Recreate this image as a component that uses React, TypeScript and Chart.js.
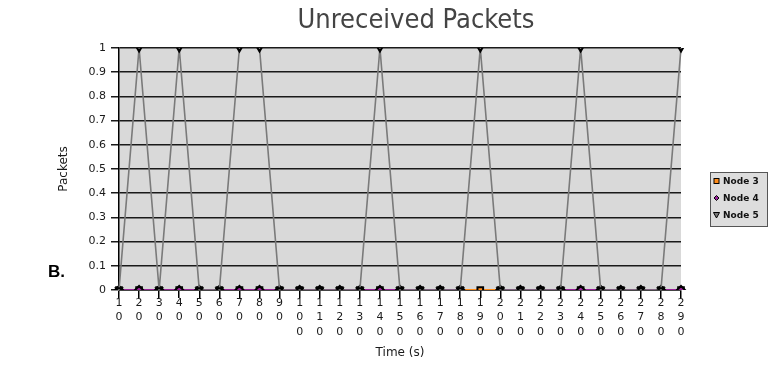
import React, { useEffect, useRef } from 'react';
import { Chart, registerables } from 'chart.js';

Chart.register(...registerables);

const TITLE = 'Unreceived Packets';
const X_TITLE = 'Time (s)';
const Y_TITLE = 'Packets';
const PANEL_LABEL = 'B.';

const categories = [10, 20, 30, 40, 50, 60, 70, 80, 90, 100, 110, 120, 130, 140, 150, 160, 170, 180, 190, 200, 210, 220, 230, 240, 250, 260, 270, 280, 290];

const node3 = [0, 0, 0, 0, 0, 0, 0, 0, 0, 0, 0, 0, 0, 0, 0, 0, 0, 0, 0, 0, 0, 0, 0, 0, 0, 0, 0, 0, 0];
const node4 = [0, 0, 0, 0, 0, 0, 0, 0, 0, 0, 0, 0, 0, 0, 0, 0, 0, 0, null, 0, 0, 0, 0, 0, 0, 0, 0, 0, 0];
const node5 = [0, 1, 0, 1, 0, 0, 1, 1, 0, 0, 0, 0, 0, 1, 0, 0, 0, 0, 1, 0, 0, 0, 0, 1, 0, 0, 0, 0, 1];

const yTickLabels = ['0', '0.1', '0.2', '0.3', '0.4', '0.5', '0.6', '0.7', '0.8', '0.9', '1'];

const seriesNames = ['Node 3', 'Node 4', 'Node 5'];
const seriesColors = ['#ff8c1a', '#992299', '#7a7a7a'];

const FONT = '"DejaVu Sans", sans-serif';

const plotBg = {
  id: 'plotBg',
  beforeDraw(chart: any) {
    const { ctx, chartArea: a } = chart;
    ctx.save();
    ctx.fillStyle = '#d9d9d9';
    ctx.fillRect(a.left, a.top, a.right - a.left, a.bottom - a.top);
    ctx.restore();
  },
};

const overlay = {
  id: 'overlay',
  afterDraw(chart: any) {
    const ctx = chart.ctx;
    ctx.save();
    // title
    ctx.font = '27px "DejaVu Sans Condensed", ' + FONT;
    ctx.fillStyle = '#444';
    ctx.textAlign = 'center';
    ctx.textBaseline = 'middle';
    ctx.fillText(TITLE, 416, 21);

    // legend box
    const lx = 710.5, ly = 172.5, lw = 57, lh = 54;
    ctx.fillStyle = '#dddddd';
    ctx.fillRect(lx, ly, lw, lh);
    ctx.strokeStyle = '#555';
    ctx.lineWidth = 1;
    ctx.strokeRect(lx, ly, lw, lh);

    chart.data.datasets.forEach((ds: any, i: number) => {
      const cy = 181 + i * 17;
      const mx = 716.5;
      ctx.lineWidth = 1;
      ctx.strokeStyle = '#000';
      ctx.fillStyle = ds.pointBackgroundColor;
      if (ds.pointStyle === 'rect') {
        ctx.fillRect(mx - 2.5, cy - 2.5, 5, 5);
        ctx.strokeRect(mx - 2.5, cy - 2.5, 5, 5);
      } else if (ds.pointStyle === 'rectRot') {
        ctx.beginPath();
        ctx.moveTo(mx, cy - 2.5);
        ctx.lineTo(mx + 2.5, cy);
        ctx.lineTo(mx, cy + 2.5);
        ctx.lineTo(mx - 2.5, cy);
        ctx.closePath();
        ctx.fill();
        ctx.stroke();
      } else {
        ctx.beginPath();
        ctx.moveTo(mx - 3, cy - 2.5);
        ctx.lineTo(mx + 3, cy - 2.5);
        ctx.lineTo(mx, cy + 3);
        ctx.closePath();
        ctx.fill();
        ctx.stroke();
      }
      ctx.fillStyle = '#111';
      ctx.font = 'bold 9px ' + FONT;
      ctx.textAlign = 'left';
      ctx.textBaseline = 'middle';
      ctx.fillText(ds.label, 723, cy + 0.5);
    });
    ctx.restore();
  },
};

export default function App() {
  const ref = useRef<HTMLCanvasElement | null>(null);

  useEffect(() => {
    if (!ref.current) return;
    const chart = new Chart(ref.current, {
      type: 'line',
      data: {
        labels: categories.map((c) => String(c).split('')),
        datasets: [
          {
            label: seriesNames[0],
            data: node3,
            borderColor: seriesColors[0],
            borderWidth: 2,
            pointStyle: 'rect',
            pointRadius: 4,
            pointBorderWidth: 2,
            pointBorderColor: '#000',
            pointBackgroundColor: seriesColors[0],
            tension: 0,
            spanGaps: false,
            order: 2,
          },
          {
            label: seriesNames[1],
            data: node4,
            borderColor: seriesColors[1],
            borderWidth: 2,
            pointStyle: 'rectRot',
            pointRadius: 4,
            pointBorderWidth: 2,
            pointBorderColor: '#000',
            pointBackgroundColor: seriesColors[1],
            tension: 0,
            spanGaps: false,
            order: 1,
          },
          {
            label: seriesNames[2],
            data: node5,
            borderColor: seriesColors[2],
            borderWidth: 1.6,
            pointStyle: 'triangle',
            pointRotation: 180,
            pointRadius: 3.5,
            pointBorderWidth: 2,
            pointBorderColor: '#000',
            pointBackgroundColor: seriesColors[2],
            tension: 0,
            spanGaps: false,
            order: 0,
          },
        ] as any,
      },
      options: {
        animation: false,
        responsive: true,
        maintainAspectRatio: false,
        layout: { padding: { left: 0, right: 91, top: 48, bottom: 0 } },
        plugins: {
          legend: { display: false },
          title: { display: false },
          tooltip: { enabled: false },
        },
        scales: {
          x: {
            type: 'category',
            offset: false,
            grid: {
              display: true,
              drawOnChartArea: false,
              drawTicks: true,
              tickLength: 8,
              color: '#000',
              lineWidth: 1.5,
            },
            border: { display: true, color: '#444', width: 1 },
            ticks: {
              autoSkip: false,
              maxRotation: 0,
              minRotation: 0,
              padding: -2,
              color: '#1a1a1a',
              font: { family: FONT, size: 11, lineHeight: 1.3 },
            },
            title: {
              display: true,
              text: X_TITLE,
              color: '#1a1a1a',
              font: { family: FONT, size: 12 },
              padding: { top: 0, bottom: 23 },
            },
            afterFit(scale: any) {
              scale.height = 93;
            },
          },
          y: {
            type: 'linear',
            min: 0,
            max: 1,
            ticks: {
              stepSize: 0.1,
              padding: 5,
              color: '#1a1a1a',
              font: { family: FONT, size: 11 },
              callback: (_v: any, i: number) => yTickLabels[i],
            },
            grid: {
              display: true,
              drawOnChartArea: true,
              drawTicks: true,
              tickLength: 8,
              color: '#1a1a1a',
              lineWidth: 1.5,
            },
            border: { display: true, color: '#000', width: 1.5 },
            title: {
              display: true,
              text: Y_TITLE,
              color: '#1a1a1a',
              font: { family: FONT, size: 12 },
              padding: { top: 57, bottom: 0 },
            },
            afterFit(scale: any) {
              scale.width = 119;
            },
          },
        },
      },
      plugins: [plotBg, overlay],
    });
    return () => chart.destroy();
  }, []);

  return (
    <div style={{ position: 'fixed', left: 0, top: 0, width: 772, height: 383, background: '#fff' }}>
      <canvas ref={ref} />
      <div
        style={{
          position: 'absolute',
          left: 48,
          top: 262,
          fontFamily: '"Liberation Sans", Arial, sans-serif',
          fontWeight: 'bold',
          fontSize: 17,
          lineHeight: '20px',
          color: '#000',
        }}
      >
        {PANEL_LABEL}
      </div>
    </div>
  );
}
